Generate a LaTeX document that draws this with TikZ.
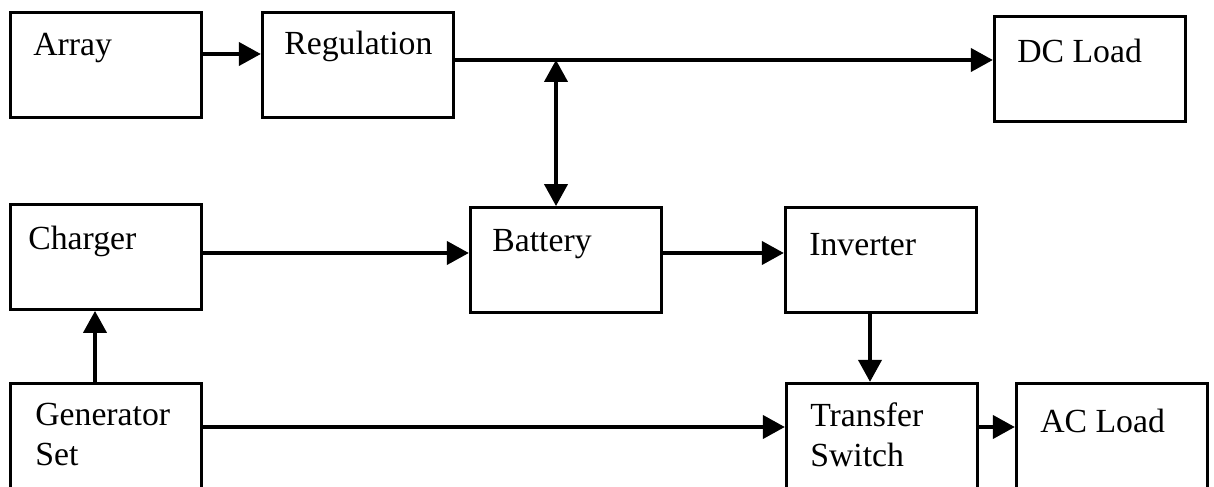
\documentclass[tikz,border=0pt]{standalone}
\usepackage{fontspec}
\setmainfont{Liberation Serif}
\usetikzlibrary{arrows.meta}
\tikzset{
  blk/.style={draw, line width=2.2pt, minimum width=4.78cm, minimum height=2.62cm, inner sep=0pt},
  tall/.style={blk, minimum height=3.43cm},
  txt/.style={anchor=base west, inner sep=0pt, align=left, font=\fontsize{24}{28}\selectfont},
  flow/.style={line width=2.5pt, -{Triangle[length=0.55cm,width=0.58cm]}},
  both/.style={line width=2.5pt, {Triangle[length=0.55cm,width=0.58cm]}-{Triangle[length=0.55cm,width=0.58cm]}},
}
\begin{document}
\begin{tikzpicture}[x=0.025cm,y=0.025cm]
\useasboundingbox (0,0) rectangle (1214,486);
\clip (0,0) rectangle (1214,486);
\fill[white] (0,0) rectangle (1214,486);
\node[blk] (arr) at (106,421) {};
\node[blk] (reg) at (358,421) {};
\node[blk] (dcl) at (1090,417) {};
\node[blk] (chg) at (106,229) {};
\node[blk] (bat) at (566,226) {};
\node[blk] (inv) at (881,226) {};
\node[tall] (gen) at (106,34) {};
\node[tall] (trn) at (882,34) {};
\node[tall] (acl) at (1112,34) {};
\node[txt] (arrt) at (33,430) {Array};
\node[txt] (regt) at (284,431) {Regulation};
\node[txt] (dclt) at (1017,423) {DC Load};
\node[txt] (chgt) at (28,236) {Charger};
\node[txt] (batt) at (492,234) {Battery};
\node[txt] (invt) at (809,230) {Inverter};
\node[txt] (gent) at (35,21) {Generator\\Set};
\node[txt] (trnt) at (810,20) {Transfer\\Switch};
\node[txt] (aclt) at (1040,53) {AC Load};
\coordinate (feed) at (0,432);
\coordinate (tap) at (556,426);
\coordinate (mid) at (0,233);
\coordinate (low) at (0,59);
\coordinate (rise) at (95,0);
\coordinate (drop) at (870,0);
\draw[flow] (arr.east |- feed) -- (reg.west |- feed);
\draw[flow] (reg.east |- tap) -- (dcl.west |- tap);
\draw[both] (tap) -- (tap |- bat.north);
\draw[flow] (chg.east |- mid) -- (bat.west |- mid);
\draw[flow] (bat.east |- mid) -- (inv.west |- mid);
\draw[flow] (inv.south -| drop) -- (trn.north -| drop);
\draw[flow] (gen.north -| rise) -- (chg.south -| rise);
\draw[flow] (gen.east |- low) -- (trn.west |- low);
\draw[flow] (trn.east |- low) -- (acl.west |- low);
\end{tikzpicture}
\end{document}
